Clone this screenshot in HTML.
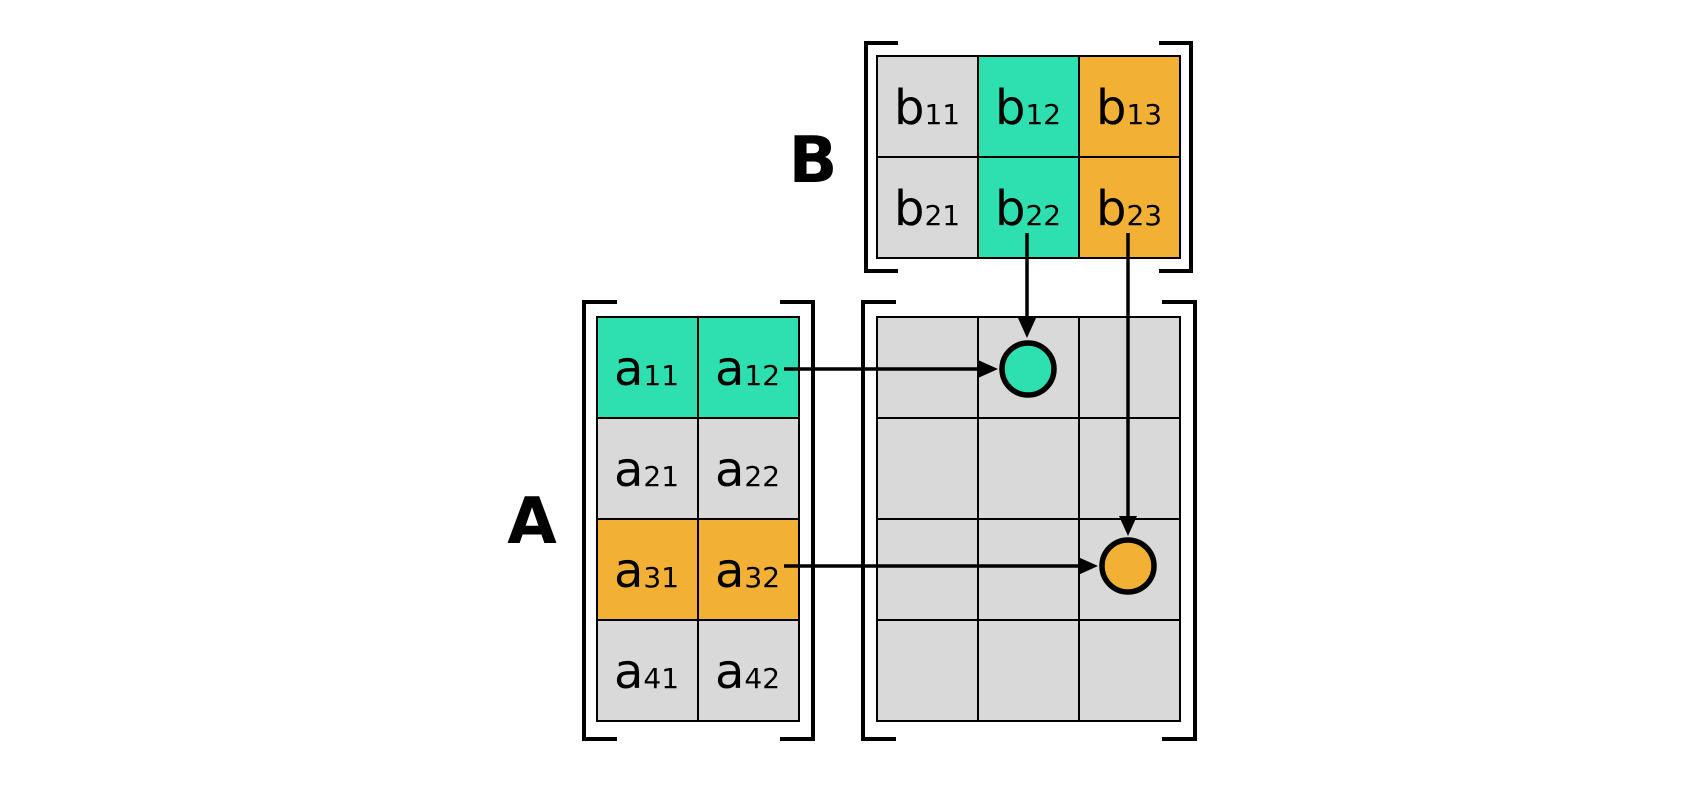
<!DOCTYPE html>
<html><head><meta charset="utf-8"><style>
html,body{margin:0;padding:0;background:#fff;}
svg{display:block}
text{font-family:"DejaVu Sans","Liberation Sans",sans-serif;fill:#000}
</style></head><body>
<svg width="1700" height="800" viewBox="0 0 1700 800">
<g id="root"></g>
</svg>
<script>
const TEAL='#2EDFB0', ORANGE='#F2B134', GRAY='#D9D9D9';
const aColors=[[TEAL,TEAL],[GRAY,GRAY],[ORANGE,ORANGE],[GRAY,GRAY]];
const bColors=[[GRAY,TEAL,ORANGE],[GRAY,TEAL,ORANGE]];
const NS='http://www.w3.org/2000/svg';
const root=document.getElementById('root');
function mk(tag,attrs,parent){const e=document.createElementNS(NS,tag);for(const k in attrs)e.setAttribute(k,attrs[k]);(parent||root).appendChild(e);return e;}
const CW=101, CH=101;
function matrix(name,x0,y0,rows,cols,colors,letter){
  const g=mk('g',{});
  
  
  for(let r=0;r<rows;r++)for(let c=0;c<cols;c++){
    const x=x0+c*CW,y=y0+r*CH;
    const rc=mk('rect',{x:x,y:y,width:CW,height:CH,fill:colors?colors[r][c]:GRAY,stroke:'#000','stroke-width':2},g);
    
    
    if(letter){
      const t=mk('text',{x:x+17,y:y+68,'font-size':48},g);
      
      
      t.textContent=letter;
      const s=mk('tspan',{'font-size':28},t);
      s.textContent=''+(r+1)+(c+1);
    }
  }
}
function bracket(name,xl,xr,yt,yb,arm){
  const g=mk('g',{fill:'none',stroke:'#000','stroke-width':4});
  
  
  mk('path',{d:`M${xl+arm},${yt} H${xl} V${yb} H${xl+arm}`},g);
  mk('path',{d:`M${xr-arm},${yt} H${xr} V${yb} H${xr-arm}`},g);
}
function arrow(name,x1,y1,x2,y2){
  const g=mk('g',{});
  
  
  const dx=x2-x1,dy=y2-y1,L=Math.hypot(dx,dy),ux=dx/L,uy=dy/L,hl=20,hw=9;
  mk('line',{x1:x1,y1:y1,x2:x2-ux*hl,y2:y2-uy*hl,stroke:'#000','stroke-width':3.5},g);
  const bx=x2-ux*hl,by=y2-uy*hl;
  mk('polygon',{points:`${x2},${y2} ${bx-uy*hw},${by+ux*hw} ${bx+uy*hw},${by-ux*hw}`,fill:'#000'},g);
}
bracket('matrix-b-brackets',866,1191,43,271,32);
matrix('matrix-b',877,56,2,3,bColors,'b');
bracket('matrix-a-brackets',584,813,302,739,33);
matrix('matrix-a',597,317,4,2,aColors,'a');
bracket('result-brackets',863,1195,302,739,33);
matrix('result-matrix',877,317,4,3,null,null);
arrow('arrow-b22',1027,233,1027,338);
arrow('arrow-b23',1128,233,1128,536);
arrow('arrow-a12',784,369,998,369);
arrow('arrow-a32',784,566,1098,566);
const c1=mk('circle',{cx:1028,cy:369,r:26,fill:TEAL,stroke:'#000','stroke-width':5.5});


const c2=mk('circle',{cx:1128,cy:566,r:26,fill:ORANGE,stroke:'#000','stroke-width':5.5});


const tb=mk('text',{x:813,y:182,'font-size':64,'font-weight':'bold','text-anchor':'middle','font-family':'Liberation Sans'});


tb.textContent='B';
const ta=mk('text',{x:532,y:543,'font-size':64,'font-weight':'bold','text-anchor':'middle','font-family':'Liberation Sans'});


ta.textContent='A';
</script>
</body></html>
